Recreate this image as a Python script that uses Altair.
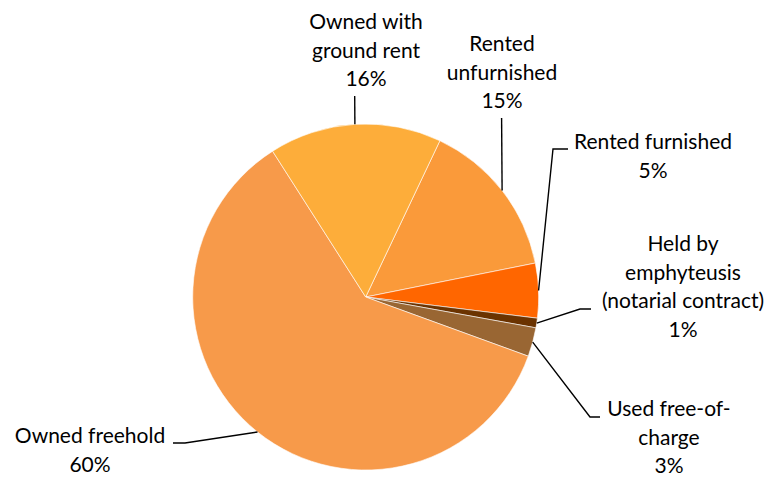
import altair as alt
import pandas as pd
import numpy as np

# ---- data (clockwise, starting at the Rented unfurnished slice) ----
categories = [
    "Rented unfurnished",
    "Rented furnished",
    "Held by emphyteusis (notarial contract)",
    "Used free-of-charge",
    "Owned freehold",
    "Owned with ground rent",
]
shares = [14.8, 5.1, 0.9, 2.7, 60.4, 16.1]
label_lines = [
    "Rented\nunfurnished",
    "Rented furnished",
    "Held by\nemphyteusis\n(notarial contract)",
    "Used free-of-\ncharge",
    "Owned freehold",
    "Owned with\nground rent",
]
colors = ["#FA9A3A", "#FF6600", "#6B3300", "#996633", "#F79A4A", "#FDAD3A"]

# ---- layout (chart pixel coordinates; page margin 8px) ----
M = 8
CX, CY, R = 365.7 - M, 297.0 - M, 173.0
START_DEG = 25.4
# centre x and first-line centre y of each label (page pixels)
label_pos = [(502, 45), (653, 143), (683, 245), (669, 410), (90, 437), (366, 23)]
elbows = [
    [(501.6, 118)],
    [(553, 149), (568, 149)],
    [(580, 309), (591, 309)],
    [(590, 417), (600, 417)],
    [(185, 443), (173, 443)],
    [(354.7, 96)],
]

df = pd.DataFrame({"category": categories, "share": shares, "idx": range(len(categories))})

# mid angles of slices for leader anchors
vals = np.array(shares, dtype=float)
cum = np.cumsum(vals)
mid = START_DEG + (cum - vals / 2) / vals.sum() * 360.0

line_rows = []
for i, cat in enumerate(categories):
    a = np.deg2rad(mid[i])
    ax = CX + R * np.sin(a)
    ay = CY - R * np.cos(a)
    pts = [(ax, ay)] + [(x - M, y - M) for x, y in elbows[i]]
    for s, (x, y) in enumerate(pts):
        line_rows.append({"category": cat, "seq": s, "px": x, "py": y})
lines_df = pd.DataFrame(line_rows)

text_df = pd.DataFrame({
    "category": categories,
    "text": [f"{l}\n{round(v):d}%" for l, v in zip(label_lines, shares)],
    "px": [p[0] - M for p in label_pos],
    "py": [p[1] - M for p in label_pos],
})

start = np.deg2rad(START_DEG)
pie = alt.Chart(df).mark_arc(outerRadius=R, stroke="white", strokeWidth=0.6).encode(
    theta=alt.Theta("share:Q", stack=True, scale=alt.Scale(range=[start, start + 2 * np.pi])),
    color=alt.Color("category:N", scale=alt.Scale(domain=categories, range=colors), legend=None),
    order=alt.Order("idx:Q"),
    x=alt.value(CX),
    y=alt.value(CY),
)

leaders = alt.Chart(lines_df).mark_line(color="black", strokeWidth=1.4).encode(
    x=alt.X("px:Q", scale=None, axis=None),
    y=alt.Y("py:Q", scale=None, axis=None),
    detail="category:N",
    order="seq:Q",
)

labels = alt.Chart(text_df).mark_text(
    font="Lato", fontSize=21, lineHeight=28.7, align="center", baseline="middle",
    lineBreak="\n", color="black",
).encode(
    x=alt.X("px:Q", scale=None, axis=None),
    y=alt.Y("py:Q", scale=None, axis=None),
    text="text:N",
)

chart = alt.layer(pie, leaders, labels).properties(
    width=772 - 2 * M, height=477 - M, padding=0,
    autosize=alt.AutoSizeParams(type="none"),
).configure_view(stroke=None)

chart.save("out.html", embed_options={"renderer": "svg", "actions": False})
